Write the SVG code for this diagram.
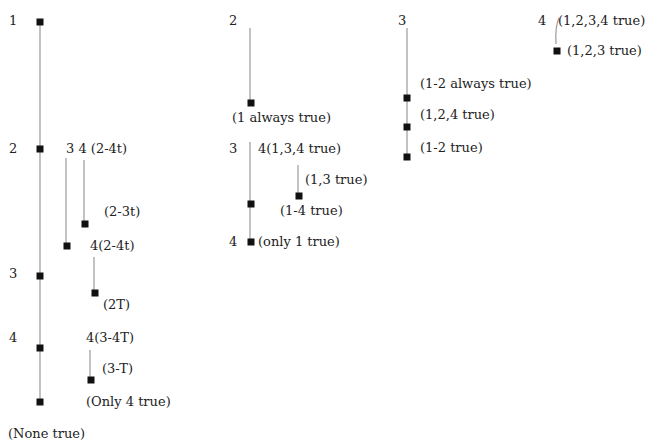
<svg xmlns="http://www.w3.org/2000/svg" width="647" height="444" viewBox="0 0 647 444">
  <style>
    text { font-family: "DejaVu Serif", "Liberation Serif", serif; font-size: 13px; fill: #222; }
    .conn { stroke: #9a9a9a; stroke-width: 1.2; fill: none; }
    .pt { fill: #111; }
  </style>
  <defs>
    <rect id="pt" class="pt" x="-3.5" y="-3.5" width="7" height="7"/>
  </defs>
  <rect width="647" height="444" fill="#fff"/>

  <!-- connectors -->
  <g id="connectors">
    <line class="conn" x1="40" y1="22" x2="40" y2="402"/>
    <line class="conn" x1="66" y1="158" x2="66" y2="246"/>
    <line class="conn" x1="84" y1="160" x2="84" y2="224"/>
    <line class="conn" x1="94" y1="257" x2="94" y2="293"/>
    <line class="conn" x1="90" y1="350" x2="90" y2="380"/>
    <line class="conn" x1="250" y1="28" x2="250" y2="103"/>
    <line class="conn" x1="250" y1="142" x2="250" y2="242"/>
    <line class="conn" x1="298" y1="165" x2="298" y2="196"/>
    <line class="conn" x1="407" y1="28" x2="407" y2="157"/>
    <path class="conn" d="M559,18 Q555,26 556,44"/>
  </g>

  <!-- tree 1 -->
  <g id="n1-1"><text x="9" y="25">1</text><use href="#pt" x="40" y="22"/></g>
  <g id="n1-2"><text x="9" y="153">2</text><use href="#pt" x="40" y="149"/></g>
  <g id="n1-2a"><text x="66" y="153">3 4 (2-4t)</text></g>
  <g id="n1-23t"><text x="104" y="216">(2-3t)</text><use href="#pt" x="85" y="224"/></g>
  <g id="n1-24t"><text x="90" y="250">4(2-4t)</text><use href="#pt" x="67" y="246"/></g>
  <g id="n1-2T"><text x="103" y="309">(2T)</text><use href="#pt" x="95" y="293"/></g>
  <g id="n1-3"><text x="9" y="278">3</text><use href="#pt" x="40" y="276"/></g>
  <g id="n1-4"><text x="9" y="342">4</text><use href="#pt" x="40" y="348"/></g>
  <g id="n1-34T"><text x="86" y="342">4(3-4T)</text></g>
  <g id="n1-3T"><text x="102" y="373">(3-T)</text><use href="#pt" x="91" y="380"/></g>
  <g id="n1-only4"><text x="86" y="406">(Only 4 true)</text></g>
  <g id="n1-none"><use href="#pt" x="40" y="402"/><text x="8" y="438">(None true)</text></g>

  <!-- tree 2 -->
  <g id="n2-2"><text x="229" y="25">2</text></g>
  <g id="n2-1always"><use href="#pt" x="251" y="103"/><text x="232" y="122">(1 always true)</text></g>
  <g id="n2-3"><text x="229" y="153">3</text><text x="258" y="153">4(1,3,4 true)</text></g>
  <g id="n2-13"><text x="305" y="184">(1,3 true)</text><use href="#pt" x="299" y="196"/></g>
  <g id="n2-14"><use href="#pt" x="251" y="204"/><text x="280" y="215">(1-4 true)</text></g>
  <g id="n2-4"><text x="229" y="246">4</text><use href="#pt" x="251" y="242"/><text x="258" y="246">(only 1 true)</text></g>

  <!-- tree 3 -->
  <g id="n3-3"><text x="398" y="25">3</text></g>
  <g id="n3-12always"><text x="420" y="88">(1-2 always true)</text><use href="#pt" x="407" y="98"/></g>
  <g id="n3-124"><text x="420" y="119">(1,2,4 true)</text><use href="#pt" x="407" y="127"/></g>
  <g id="n3-12"><text x="420" y="152">(1-2 true)</text><use href="#pt" x="407" y="157"/></g>

  <!-- tree 4 -->
  <g id="n4-4"><text x="538" y="25">4</text><text x="558" y="25">(1,2,3,4 true)</text></g>
  <g id="n4-123"><use href="#pt" x="557" y="51"/><text x="567" y="55">(1,2,3 true)</text></g>
</svg>
